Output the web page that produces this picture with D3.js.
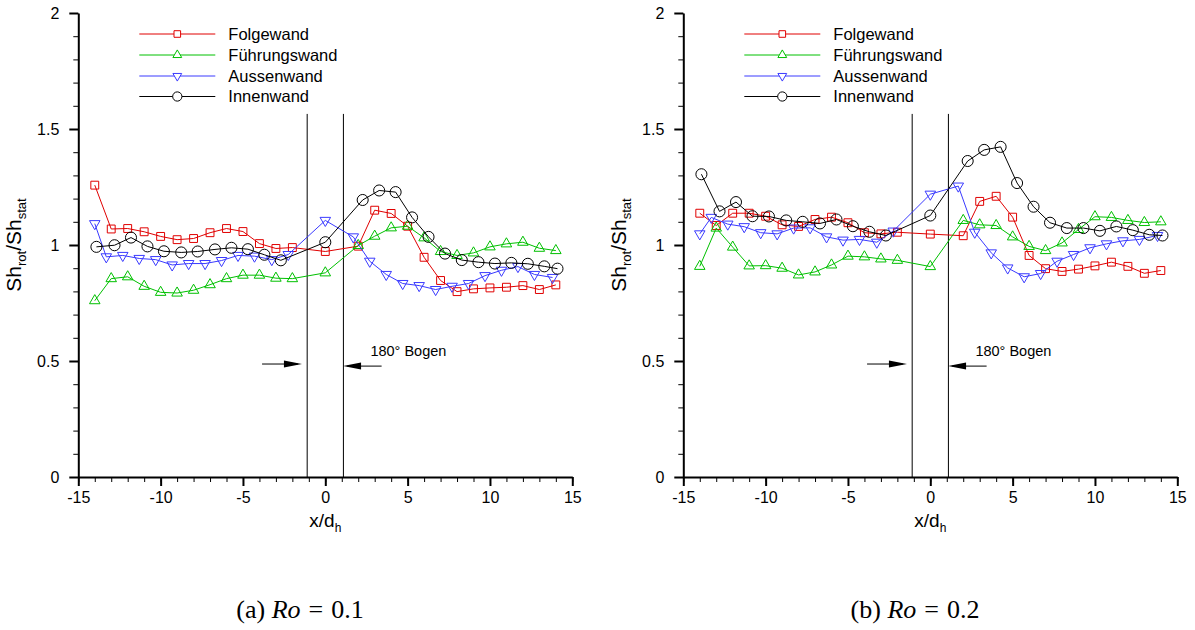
<!DOCTYPE html>
<html><head><meta charset="utf-8">
<script src="https://cdn.jsdelivr.net/npm/d3@7"></script>
<style>body{margin:0;background:#fff;} svg{display:block;}</style>
</head><body>
<svg id="chart" width="1195" height="630"></svg>
<script>
// ---------- data ----------
const seriesNames = ["Folgewand", "Führungswand", "Aussenwand", "Innenwand"];
const xTickValues = [-15, -10, -5, 0, 5, 10, 15];
const yTickValues = [0, 0.5, 1, 1.5, 2];
const xTickLabels = ["-15", "-10", "-5", "0", "5", "10", "15"];
const yTickLabels = ["0", "0.5", "1", "1.5", "2"];
const bendEdges = [-1.1, 1.1];
const captions = [["(a) ", "Ro", "=", "0.1"], ["(b) ", "Ro", "=", "0.2"]];

// x positions (x/d_h)
const xFolge = [-14,-13,-12,-11,-10,-9,-8,-7,-6,-5,-4,-3,-2,0,2,3,4,5,6,7,8,9,10,11,12,13,14];
const xFuehr = [-14,-13,-12,-11,-10,-9,-8,-7,-6,-5,-4,-3,-2,0,2,3,4,5,6,7,8,9,10,11,12,13,14];
const xAussen = [-14,-13.3,-12.3,-11.3,-10.3,-9.3,-8.3,-7.3,-6.3,-5.3,-4.3,-3.25,-2.25,0,1.7,2.7,3.7,4.7,5.7,6.7,7.7,8.7,9.7,10.7,11.7,12.7,13.8];
const xInnen = [-13.9,-12.8,-11.8,-10.8,-9.8,-8.75,-7.75,-6.7,-5.7,-4.7,-3.7,-2.7,0,2.27,3.27,4.27,5.27,6.27,7.27,8.29,9.3,10.3,11.3,12.3,13.3,14.1];

// Ro = 0.1
const ro1Folge  = [1.258,1.069,1.071,1.057,1.037,1.023,1.028,1.053,1.071,1.058,1.006,0.985,0.989,0.972,0.995,1.150,1.136,1.081,0.947,0.847,0.799,0.811,0.815,0.818,0.825,0.808,0.828];
const ro1Fuehr  = [0.760,0.855,0.863,0.822,0.796,0.793,0.805,0.829,0.855,0.870,0.870,0.857,0.855,0.880,0.998,1.038,1.074,1.081,1.031,0.972,0.955,0.966,0.992,1.005,1.012,0.986,0.976];
const ro1Aussen = [1.092,0.949,0.955,0.942,0.937,0.914,0.920,0.920,0.933,0.955,0.952,0.937,0.959,1.106,1.035,0.930,0.873,0.834,0.825,0.808,0.822,0.834,0.868,0.891,0.907,0.873,0.860];
const ro1Innen  = [0.992,0.999,1.032,0.994,0.973,0.968,0.972,0.981,0.988,0.982,0.958,0.934,1.012,1.194,1.235,1.228,1.119,1.035,0.963,0.935,0.926,0.920,0.923,0.919,0.908,0.898];

// Ro = 0.2
const ro2Folge  = [1.137,1.084,1.137,1.137,1.124,1.087,1.080,1.110,1.120,1.096,1.053,1.048,1.055,1.047,1.040,1.188,1.210,1.120,0.955,0.898,0.886,0.896,0.910,0.926,0.908,0.878,0.890];
const ro2Fuehr  = [0.908,1.073,0.991,0.910,0.911,0.900,0.871,0.884,0.914,0.952,0.949,0.940,0.934,0.907,1.106,1.087,1.084,1.035,0.994,0.976,1.009,1.067,1.122,1.119,1.106,1.097,1.100];
const ro2Aussen = [1.048,1.119,1.090,1.079,1.053,1.048,1.073,1.074,1.035,1.021,1.024,1.012,1.060,1.219,1.254,1.055,0.966,0.901,0.863,0.877,0.930,0.959,0.988,1.005,1.018,1.024,1.041];
const ro2Innen  = [1.305,1.145,1.185,1.124,1.123,1.106,1.100,1.093,1.110,1.081,1.057,1.041,1.127,1.362,1.410,1.423,1.267,1.165,1.096,1.073,1.073,1.061,1.080,1.064,1.044,1.041];

// ---------- styles ----------
const colors = ["#e00000", "#00c000", "#3a3aff", "#000000"];
const symbols = [d3.symbolSquare, d3.symbolTriangle, "down", d3.symbolCircle];
const symSizes = [62, 48, 48, 96];

const svg = d3.select("#chart");
const SANS = "'Liberation Sans', Arial, Helvetica, sans-serif";
const SERIF = "'Liberation Serif', 'Times New Roman', serif";

function markerPath(i, scale) {
  const t = symbols[i] === "down" ? d3.symbolTriangle : symbols[i];
  return d3.symbol(t, symSizes[i] * (scale || 1))();
}

function drawPanel(ox, capX, xsList, ysList, caption) {
  const g = svg.append("g");
  const x = d3.scaleLinear().domain([-15, 15]).range([ox, ox + 494]);
  const y = d3.scaleLinear().domain([0, 2]).range([477, 13]);

  // minor ticks
  const xMinor = g.append("g").attr("transform", "translate(0,477)")
    .call(d3.axisBottom(x).tickValues(d3.range(-15, 16, 1)).tickSize(5).tickFormat(""));
  xMinor.select(".domain").remove();
  xMinor.selectAll("line").attr("stroke", "#000").attr("stroke-width", 1);
  const yMinor = g.append("g").attr("transform", `translate(${ox},0)`)
    .call(d3.axisLeft(y).tickValues(d3.range(0, 2.001, 0.1)).tickSize(5).tickFormat(""));
  yMinor.select(".domain").remove();
  yMinor.selectAll("line").attr("stroke", "#000").attr("stroke-width", 1);

  // major axes
  const xAx = g.append("g").attr("transform", "translate(0,477)")
    .call(d3.axisBottom(x).tickValues(xTickValues).tickSize(9).tickSizeOuter(0).tickPadding(6)
      .tickFormat((d, i) => xTickLabels[i]));
  const yAx = g.append("g").attr("transform", `translate(${ox},0)`)
    .call(d3.axisLeft(y).tickValues(yTickValues).tickSize(9).tickSizeOuter(0).tickPadding(10)
      .tickFormat((d, i) => yTickLabels[i]));
  [xAx, yAx].forEach(a => {
    a.select(".domain").attr("stroke", "#000").attr("stroke-width", 2);
    a.selectAll("line").attr("stroke", "#000").attr("stroke-width", 2);
    a.selectAll("text").attr("fill", "#000").style("font-family", SANS).style("font-size", "16px");
  });

  // bend lines
  g.selectAll(".bend").data(bendEdges).enter().append("line")
    .attr("x1", d => x(d)).attr("x2", d => x(d))
    .attr("y1", y(0)).attr("y2", y(1.565))
    .attr("stroke", "#000").attr("stroke-width", 1);

  // arrows
  const arrows = [
    { from: -3.84, to: -1.42, yv: 0.487 },
    { from: 3.42, to: 1.08, yv: 0.478 }
  ];
  arrows.forEach(a => {
    const yy = y(a.yv), x0 = x(a.from), x1 = x(a.to);
    const dir = Math.sign(x1 - x0);
    g.append("line").attr("x1", x0).attr("x2", x1 - dir * 4).attr("y1", yy).attr("y2", yy)
      .attr("stroke", "#000").attr("stroke-width", 1);
    g.append("path")
      .attr("d", `M${x1},${yy} L${x1 - dir * 18},${yy - 3.5} L${x1 - dir * 18},${yy + 3.5} Z`)
      .attr("fill", "#000");
  });
  g.append("text").attr("x", x(2.74)).attr("y", y(0.542)).attr("dy", "0.35em")
    .style("font-family", SANS).style("font-size", "14.5px").attr("fill", "#000")
    .text("180° Bogen");

  // series
  const line = d3.line().x(d => x(d[0])).y(d => y(d[1]));
  xsList.forEach((xs, i) => {
    const pts = xs.map((xv, k) => [xv, ysList[i][k]]);
    g.append("path").datum(pts).attr("d", line)
      .attr("fill", "none").attr("stroke", colors[i]).attr("stroke-width", 1);
    const mp = markerPath(i);
    g.selectAll(null).data(pts).enter().append("path")
      .attr("d", mp)
      .attr("transform", d => `translate(${x(d[0])},${y(d[1])})` + (symbols[i] === "down" ? " rotate(180)" : ""))
      .attr("fill", "none").attr("stroke", colors[i]).attr("stroke-width", 1);
  });

  // legend
  const legRows = [34, 55, 76, 96.5];
  seriesNames.forEach((name, i) => {
    const ly = legRows[i];
    g.append("line").attr("x1", ox + 61).attr("x2", ox + 137).attr("y1", ly).attr("y2", ly)
      .attr("stroke", colors[i]).attr("stroke-width", 1);
    g.append("path").attr("d", markerPath(i, 0.7))
      .attr("transform", `translate(${ox + 99},${ly})` + (symbols[i] === "down" ? " rotate(180)" : ""))
      .attr("fill", "#fff").attr("stroke", colors[i]).attr("stroke-width", 1);
    g.append("text").attr("x", ox + 150).attr("y", ly).attr("dy", "0.36em")
      .style("font-family", SANS).style("font-size", "16.5px").attr("fill", "#000").text(name);
  });

  // y label
  const yl = g.append("text")
    .attr("transform", `translate(${ox - 57},${y(1)}) rotate(-90)`)
    .attr("text-anchor", "middle")
    .style("font-family", SANS).style("font-size", "21px").attr("fill", "#000");
  yl.append("tspan").text("Sh");
  yl.append("tspan").attr("dy", 5).style("font-size", "13px").text("rot");
  yl.append("tspan").attr("dy", -5).text("/Sh");
  yl.append("tspan").attr("dy", 5).style("font-size", "13px").text("stat");

  // x label
  const xl = g.append("text").attr("x", x(0)).attr("y", 527).attr("text-anchor", "middle")
    .style("font-family", SANS).style("font-size", "19px").attr("fill", "#000");
  xl.append("tspan").text("x/d");
  xl.append("tspan").attr("dy", 5).style("font-size", "12px").text("h");

  // caption
  const cap = g.append("text").attr("x", capX).attr("y", 618).attr("text-anchor", "middle")
    .style("font-family", SERIF).style("font-size", "26px").attr("fill", "#000");
  cap.append("tspan").text(caption[0]);
  cap.append("tspan").style("font-style", "italic").text(caption[1]);
  cap.append("tspan").attr("dx", 8).text(caption[2]);
  cap.append("tspan").attr("dx", 8).text(caption[3]);
}

drawPanel(78.3, 300, [xFolge, xFuehr, xAussen, xInnen], [ro1Folge, ro1Fuehr, ro1Aussen, ro1Innen], captions[0]);
drawPanel(683.3, 915, [xFolge, xFuehr, xAussen, xInnen], [ro2Folge, ro2Fuehr, ro2Aussen, ro2Innen], captions[1]);
</script>
</body></html>
